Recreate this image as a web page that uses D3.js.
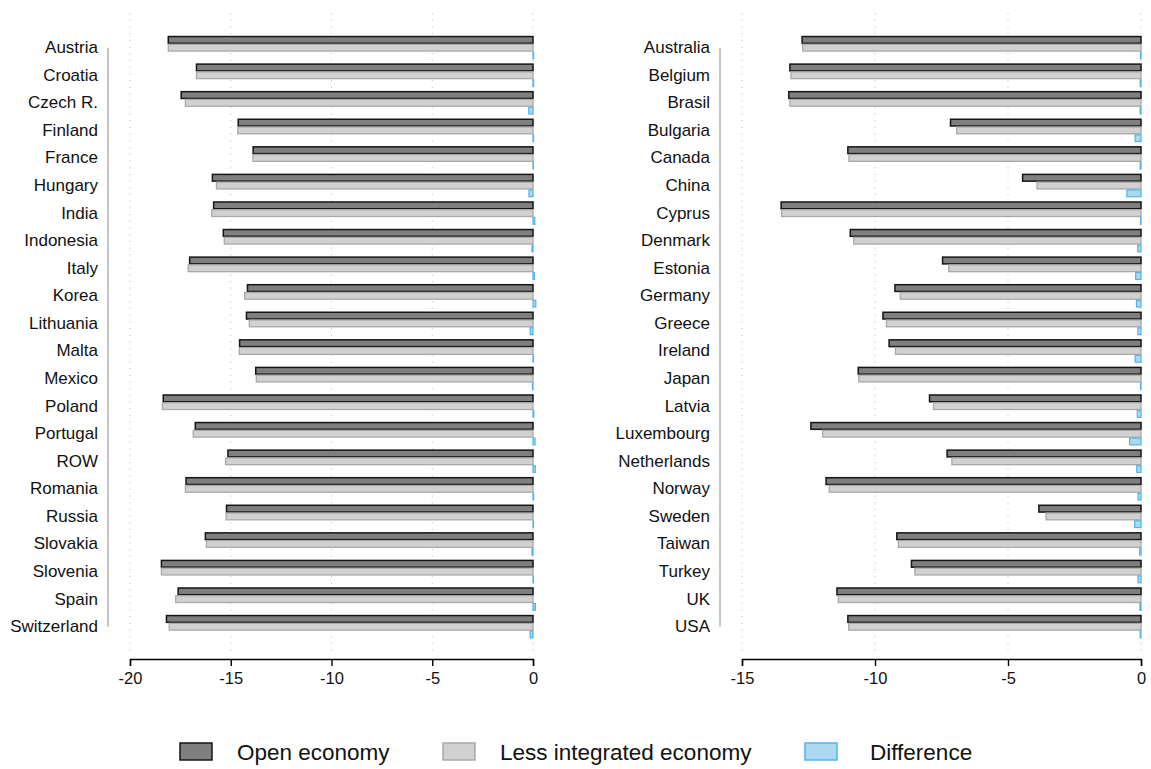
<!DOCTYPE html>
<html>
<head>
<meta charset="utf-8">
<script src="https://cdn.jsdelivr.net/npm/d3@7"></script>
<style>
  html, body { margin: 0; padding: 0; background: #fff; }
  svg { display: block; font-family: "Liberation Sans", Arial, Helvetica, sans-serif; }
</style>
</head>
<body>
<svg id="chart" width="1151" height="769"></svg>
<script>
// ---- Data ----
const countriesL = ["Austria","Croatia","Czech R.","Finland","France","Hungary","India","Indonesia","Italy","Korea","Lithuania","Malta","Mexico","Poland","Portugal","ROW","Romania","Russia","Slovakia","Slovenia","Spain","Switzerland"];
const openL = [-18.10,-16.70,-17.46,-14.63,-13.89,-15.91,-15.85,-15.37,-17.04,-14.17,-14.22,-14.56,-13.76,-18.35,-16.76,-15.14,-17.22,-15.21,-16.26,-18.44,-17.61,-18.19];
const lessL = [-18.10,-16.70,-17.25,-14.65,-13.90,-15.71,-15.94,-15.32,-17.11,-14.31,-14.08,-14.58,-13.73,-18.39,-16.86,-15.25,-17.25,-15.23,-16.21,-18.44,-17.73,-18.05];
const diffL = [0.03,0.03,-0.21,0.03,0.02,-0.20,0.09,-0.05,0.07,0.14,-0.14,0.02,-0.03,0.04,0.10,0.11,0.03,0.02,-0.05,0.02,0.12,-0.14];

const countriesR = ["Australia","Belgium","Brasil","Bulgaria","Canada","China","Cyprus","Denmark","Estonia","Germany","Greece","Ireland","Japan","Latvia","Luxembourg","Netherlands","Norway","Sweden","Taiwan","Turkey","UK","USA"];
const openR = [-12.74,-13.20,-13.24,-7.16,-11.02,-4.45,-13.53,-10.93,-7.46,-9.25,-9.70,-9.47,-10.63,-7.95,-12.41,-7.29,-11.84,-3.84,-9.18,-8.63,-11.43,-11.02];
const lessR = [-12.72,-13.16,-13.20,-6.93,-10.98,-3.91,-13.51,-10.80,-7.23,-9.05,-9.57,-9.23,-10.61,-7.80,-11.97,-7.11,-11.72,-3.57,-9.12,-8.50,-11.38,-10.99];
const diffR = [-0.02,-0.03,-0.03,-0.22,-0.03,-0.53,-0.02,-0.12,-0.20,-0.17,-0.12,-0.22,-0.02,-0.14,-0.43,-0.16,-0.11,-0.24,-0.05,-0.11,-0.04,-0.03];

const ticksL = [-20,-15,-10,-5,0];
const ticksR = [-15,-10,-5,0];
const seriesNames = ["Open economy","Less integrated economy","Difference"];

// ---- Styles ----
const styles = [
  {fill:"#7f7f7f", stroke:"#151515", sw:1.5},
  {fill:"#d1d1d1", stroke:"#a9a9a9", sw:1.3},
  {fill:"#acd9f1", stroke:"#52b3e6", sw:1.2}
];

const svg = d3.select("#chart");

function panel(cfg) {
  const g = svg.append("g");
  const x = d3.scaleLinear().domain(cfg.domain).range(cfg.xRange);
  const y = d3.scaleBand().domain(cfg.countries).range([33.9, 640.5]).paddingInner(0.155).paddingOuter(0.0775);
  const sub = d3.scaleBand().domain([0,1,2]).range([0, y.bandwidth()]).padding(0);
  const axisY = 659;
  const top = 13;

  // dotted gridlines
  g.selectAll("line.grid").data(cfg.ticks).join("line")
    .attr("x1", d => x(d)).attr("x2", d => x(d))
    .attr("y1", top).attr("y2", axisY - 4)
    .attr("stroke", "#c4c4c4").attr("stroke-width", 1)
    .attr("stroke-dasharray", "1.2,5.5");

  // bars
  const series = [cfg.open, cfg.less, cfg.diff];
  series.forEach((vals, si) => {
    const st = styles[si];
    g.selectAll("rect.s" + si).data(vals).join("rect")
      .attr("x", d => Math.min(x(d), x(0)))
      .attr("width", d => Math.max(Math.abs(x(d) - x(0)), 0.3))
      .attr("y", (d, i) => y(cfg.countries[i]) + sub(si) + 0.5)
      .attr("height", sub.bandwidth() - 1)
      .attr("fill", st.fill).attr("stroke", st.stroke).attr("stroke-width", st.sw);
  });

  // y axis line (from first to last category centre)
  const c0 = y(cfg.countries[0]) + y.bandwidth() / 2;
  const c1 = y(cfg.countries[cfg.countries.length - 1]) + y.bandwidth() / 2;
  g.append("line").attr("x1", cfg.yAxisX).attr("x2", cfg.yAxisX)
    .attr("y1", c0).attr("y2", c1).attr("stroke", "#a8a8a8").attr("stroke-width", 1.3);

  g.selectAll("text.ylab").data(cfg.countries).join("text")
    .attr("x", cfg.yAxisX - 10)
    .attr("y", d => y(d) + y.bandwidth() / 2)
    .attr("text-anchor", "end").attr("dominant-baseline", "central")
    .attr("font-size", 17).attr("fill", "#111")
    .text(d => d);

  // x axis
  const xa = d3.axisBottom(x).tickValues(cfg.ticks).tickSize(7).tickPadding(6).tickFormat(d3.format("d"));
  const ax = g.append("g").attr("transform", `translate(0,${axisY})`).call(xa);
  ax.select(".domain").attr("stroke", "#000").attr("stroke-width", 1.4);
  ax.selectAll(".tick line").attr("stroke", "#000").attr("stroke-width", 1.4);
  ax.selectAll(".tick text").attr("font-size", 16.5).attr("fill", "#111")
    .attr("font-family", "Liberation Sans, Arial, sans-serif")
    .text(d => d < 0 ? "-" + Math.abs(d) : d);
}

panel({countries: countriesL, open: openL, less: lessL, diff: diffL, domain: [-20, 0], xRange: [130, 533], ticks: ticksL, yAxisX: 108});
panel({countries: countriesR, open: openR, less: lessR, diff: diffR, domain: [-15, 0], xRange: [742, 1141], ticks: ticksR, yAxisX: 720});

// legend
const legX = [180, 443, 805];
const leg = svg.append("g");
seriesNames.forEach((name, i) => {
  const st = styles[i];
  leg.append("rect").attr("x", legX[i]).attr("y", 743).attr("width", 32).attr("height", 17)
    .attr("fill", st.fill).attr("stroke", st.stroke).attr("stroke-width", 1.5);
  leg.append("text").attr("x", legX[i] + (i === 2 ? 65 : 57)).attr("y", 752)
    .attr("dominant-baseline", "central").attr("font-size", 22.5).attr("fill", "#111")
    .text(name);
});
</script>
</body>
</html>
